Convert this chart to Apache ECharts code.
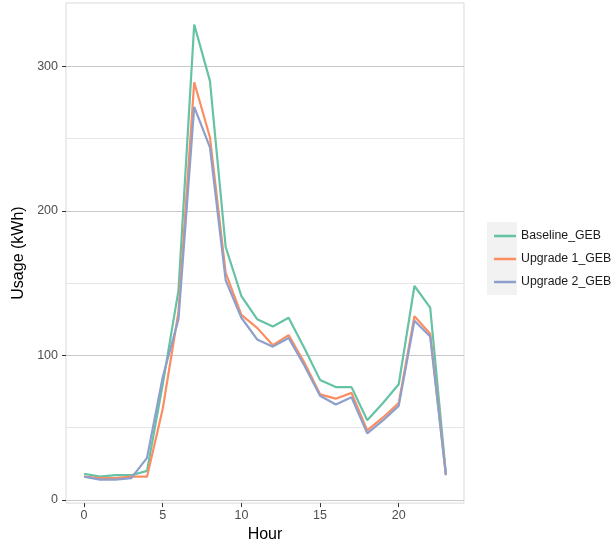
<!DOCTYPE html>
<html>
<head>
<meta charset="utf-8">
<script src="https://cdn.jsdelivr.net/npm/echarts@6/dist/echarts.min.js"></script>
<style>html,body{margin:0;padding:0;background:#fff}#c{width:616px;height:548px}</style>
</head>
<body>
<div id="c"></div>
<script>
const hours = [0,1,2,3,4,5,6,7,8,9,10,11,12,13,14,15,16,17,18,19,20,21,22,23];
const baseline = [18,16,17,17,20,80,145,329,290,175,141,125,120,126,105,83,78,78,55,67,80,148,133,18];
const upgrade1 = [16,15,15,16,16,63,130,289,251,157,128,119,107,114,95,73,70,74,48,57,67,127,115,17];
const upgrade2 = [16,14,14,15,29,85,125,272,244,152,126,111,106,112,93,72,66,71,46,55,65,124,113,17];
const seriesNames = ['Baseline_GEB','Upgrade 1_GEB','Upgrade 2_GEB'];
const xTicks = [0,5,10,15,20];
const yTicks = [0,100,200,300];
const yMinorTicks = [50,150,250];

const colors = ['#66c2a5','#fc8d62','#8da0cb'];
const font = 'Liberation Sans, Arial, sans-serif';
const chart = echarts.init(document.getElementById('c'), null, {renderer:'canvas'});
const mk = arr => hours.map((h,i)=>[h, arr[i]]);
const yMin = -2.3, yMax = 343.9;

chart.setOption({
  animation:false,
  backgroundColor:'#fff',
  grid:{left:66, right:152, top:3, bottom:42, show:true, borderColor:'#d9d9d9', borderWidth:1, backgroundColor:'transparent'},
  graphic:[{type:'rect', shape:{x:487, y:222, width:30, height:73}, style:{fill:'#f2f2f2'}, z:-1}],
  legend:{
    data:seriesNames, orient:'vertical', left:489, top:225,
    icon:'rect', itemWidth:22, itemHeight:2.5, itemGap:11,
    textStyle:{fontFamily:font, fontSize:12.3, color:'#1a1a1a'}
  },
  xAxis:{
    type:'value', min:-1.15, max:24.15,
    name:'Hour', nameLocation:'middle', nameGap:23,
    nameTextStyle:{fontFamily:font, fontSize:16, color:'#000'},
    axisLine:{show:false, onZero:false},
    axisTick:{show:true, length:4, lineStyle:{color:'#333'}, customValues:xTicks},
    axisLabel:{fontFamily:font, fontSize:12.5, color:'#4d4d4d', margin:6, customValues:xTicks},
    splitLine:{show:false}
  },
  yAxis:[{
    type:'value', min:yMin, max:yMax,
    name:'Usage (kWh)', nameLocation:'middle', nameGap:34,
    nameTextStyle:{fontFamily:font, fontSize:16, color:'#000'},
    axisLine:{show:false, onZero:false},
    axisTick:{show:true, length:4, lineStyle:{color:'#333'}, customValues:yTicks},
    axisLabel:{fontFamily:font, fontSize:12.5, color:'#4d4d4d', margin:8, customValues:yTicks},
    splitLine:{show:true, lineStyle:{color:'#c9c9c9', width:1}}
  },{
    type:'value', min:yMin, max:yMax, position:'left',
    axisLine:{show:false, onZero:false},
    axisTick:{show:false, customValues:yMinorTicks},
    axisLabel:{show:false, customValues:yMinorTicks},
    splitLine:{show:true, lineStyle:{color:'#e6e6e6', width:1}}
  }],
  series:[baseline, upgrade1, upgrade2].map((arr,i)=>({
    name:seriesNames[i], type:'line', data:mk(arr), yAxisIndex:0,
    showSymbol:false, symbol:'none',
    lineStyle:{color:colors[i], width:2.2}, itemStyle:{color:colors[i]},
    z:2+i
  }))
});
</script>
</body>
</html>
